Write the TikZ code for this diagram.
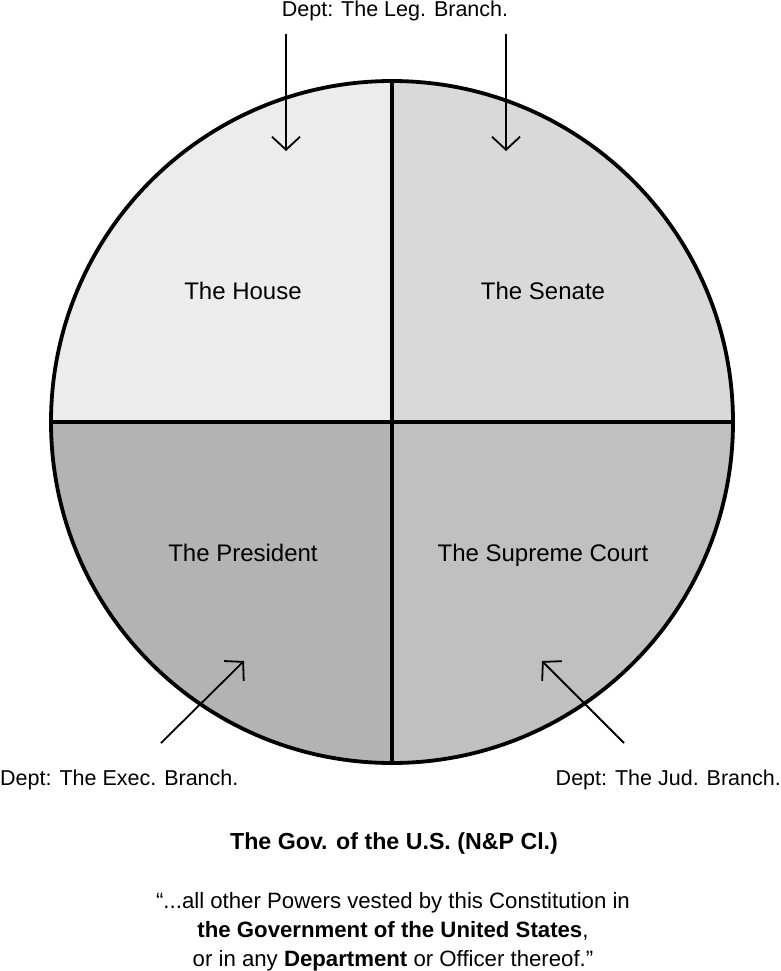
\documentclass[tikz,border=0pt]{standalone}
\usepackage{fontspec}
\setmainfont{Liberation Sans}
\usetikzlibrary{arrows.meta}
\definecolor{qtl}{HTML}{ECECEC}
\definecolor{qtr}{HTML}{D9D9D9}
\definecolor{qbl}{HTML}{B3B3B3}
\definecolor{qbr}{HTML}{C0C0C0}
\begin{document}
\begin{tikzpicture}[x=1pt,y=-1pt,
  lbl/.style={font=\fontsize{21.5}{25}\selectfont, inner sep=0pt, anchor=base},
  qlbl/.style={font=\fontsize{24}{28}\selectfont, inner sep=0pt, anchor=base},
  quote/.style={font=\fontsize{22.2}{26}\selectfont, inner sep=0pt, anchor=base},
  pointer/.style={line width=1.8pt, -{Straight Barb[length=13pt,width=28pt,line width=1.8pt]}},
  divider/.style={line width=3.6pt, line cap=rect}]
\useasboundingbox (0,0) rectangle (781,971);
\coordinate (c) at (392,422);
\def\R{341}
% quadrants
\begin{scope}
\clip (c) circle[radius=\R];
\fill[qtl] (392-\R,422-\R) rectangle (c);
\fill[qtr] (392+\R,422-\R) rectangle (c);
\fill[qbl] (392-\R,422+\R) rectangle (c);
\fill[qbr] (392+\R,422+\R) rectangle (c);
\end{scope}
\draw[divider] (392,422-\R) -- (392,422+\R);
\draw[divider] (392-\R,422) -- (392+\R,422);
\draw[line width=3.8pt] (c) circle[radius=\R];
% quadrant labels
\node[qlbl] (house) at (243,299) {The House};
\node[qlbl] (senate) at (543,299) {The Senate};
\node[qlbl] (pres) at (243,561) {The President};
\node[qlbl] (court) at (543,561) {The Supreme Court};
% department labels
\node[lbl] (leg) at (395,17) {Dept: The Leg. Branch.};
\node[lbl,anchor=base west] (exec) at (0,785) {Dept: The Exec. Branch.};
\node[lbl,anchor=base east] (jud) at (781,785) {Dept: The Jud. Branch.};
% arrows
\coordinate (a1s) at (286,34); \coordinate (a1e) at (286,151);
\coordinate (a2s) at (506,34); \coordinate (a2e) at (506,151);
\coordinate (a3s) at (161,743); \coordinate (a3e) at (244,661);
\coordinate (a4s) at (624,743); \coordinate (a4e) at (542,661);
\draw[pointer] (a1s) -- (a1e);
\draw[pointer] (a2s) -- (a2e);
\draw[pointer] (a3s) -- (a3e);
\draw[pointer] (a4s) -- (a4e);
% title and quote
\node[inner sep=0pt, anchor=base, font=\fontsize{23.2}{26}\selectfont\bfseries] (title) at (394,849) {The Gov. of the U.S. (N\&P Cl.)};
\node[quote] (q1) at (393,908) {“...all other Powers vested by this Constitution in};
\node[quote] (q2) at (393,937) {\textbf{the Government of the United States},};
\node[quote] (q3) at (393,966) {or in any \textbf{Department} or Officer thereof.”};
\end{tikzpicture}
\end{document}
